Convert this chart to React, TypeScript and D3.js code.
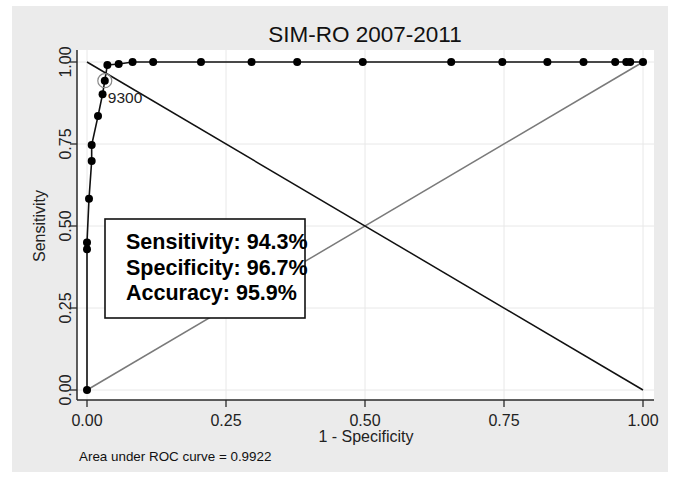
import React from "react";
import * as d3 from "d3";

const fpr = [0, 0, 0, 0.0036, 0.0084, 0.0084, 0.0198, 0.028, 0.032, 0.0366, 0.057, 0.082, 0.119, 0.205, 0.296, 0.378, 0.496, 0.655, 0.747, 0.828, 0.893, 0.95, 0.97, 0.977, 1];
const tpr = [0, 0.429, 0.45, 0.583, 0.698, 0.747, 0.835, 0.902, 0.943, 0.991, 0.994, 1, 1, 1, 1, 1, 1, 1, 1, 1, 1, 1, 1, 1, 1];
const tickValues = [0, 0.25, 0.5, 0.75, 1];
const tickLabels = ["0.00", "0.25", "0.50", "0.75", "1.00"];
const cutoffIndex = 8;
const cutoffLabel = "9300";
const statsLines = ["Sensitivity: 94.3%", "Specificity: 96.7%", "Accuracy: 95.9%"];
const titleText = "SIM-RO 2007-2011";
const xTitle = "1 - Specificity";
const yTitle = "Sensitivity";
const aucText = "Area under ROC curve = 0.9922";

const FONT = "'Liberation Sans', Arial, Helvetica, sans-serif";

export default function App() {
  const W = 674, H = 478;
  const plotL = 77, plotR = 654, plotT = 50, plotB = 400;
  const x = d3.scaleLinear().domain([0, 1]).range([87, 643]);
  const y = d3.scaleLinear().domain([0, 1]).range([390, 62]);
  const pts = fpr.map((f, i) => [f, tpr[i]] as [number, number]);
  const line = d3.line<[number, number]>().x(d => x(d[0])).y(d => y(d[1]));
  const axisColor = "#2a2a2a";
  const gridColor = "#e8e8e8";

  return (
    <div style={{ position: "absolute", left: 0, top: 0 }}>
      <svg width={W} height={H} style={{ display: "block", background: "#fff" }} fontFamily={FONT}>
        <rect x={12} y={6} width={656} height={466} fill="#ebebeb" />
        <rect x={plotL} y={plotT} width={plotR - plotL} height={plotB - plotT} fill="#fff" />
        {/* gridlines */}
        {tickValues.map(v => (
          <line key={"gx" + v} x1={x(v)} x2={x(v)} y1={plotT} y2={plotB} stroke={gridColor} strokeWidth={1} />
        ))}
        {tickValues.map(v => (
          <line key={"gy" + v} x1={plotL} x2={plotR} y1={y(v)} y2={y(v)} stroke={gridColor} strokeWidth={1} />
        ))}
        {/* reference diagonal */}
        <line x1={x(0)} y1={y(0)} x2={x(1)} y2={y(1)} stroke="#7a7a7a" strokeWidth={1.5} />
        {/* anti-diagonal */}
        <line x1={x(0)} y1={y(1)} x2={x(1)} y2={y(0)} stroke="#111" strokeWidth={1.5} />
        {/* ROC curve */}
        <path d={line(pts) || ""} fill="none" stroke="#111" strokeWidth={1.6} />
        {pts.map((p, i) => (
          <circle key={i} cx={x(p[0])} cy={y(p[1])} r={4} fill="#000" />
        ))}
        {/* cutoff marker */}
        <circle cx={x(fpr[cutoffIndex])} cy={y(tpr[cutoffIndex])} r={7} fill="none" stroke="#8a8a8a" strokeWidth={1.2} />
        <text x={x(fpr[cutoffIndex]) + 3} y={y(tpr[cutoffIndex]) + 22} fontSize={15.5} fill="#222">{cutoffLabel}</text>
        {/* axes */}
        <line x1={plotL} x2={plotL} y1={plotT} y2={plotB} stroke={axisColor} strokeWidth={1.5} />
        <line x1={plotL} x2={plotR} y1={plotB} y2={plotB} stroke={axisColor} strokeWidth={1.5} />
        {tickValues.map((v, i) => (
          <g key={"tx" + v}>
            <line x1={x(v)} x2={x(v)} y1={plotB} y2={plotB + 7} stroke={axisColor} strokeWidth={1.3} />
            <text x={x(v)} y={426} fontSize={16} textAnchor="middle" fill="#222">{tickLabels[i]}</text>
          </g>
        ))}
        {tickValues.map((v, i) => (
          <g key={"ty" + v}>
            <line x1={plotL - 7} x2={plotL} y1={y(v)} y2={y(v)} stroke={axisColor} strokeWidth={1.3} />
            <text transform={`translate(71,${y(v)}) rotate(-90)`} fontSize={16} textAnchor="middle" fill="#222">{tickLabels[i]}</text>
          </g>
        ))}
        {/* titles */}
        <text x={365} y={42} fontSize={22.5} textAnchor="middle" fill="#111">{titleText}</text>
        <text x={366} y={442} fontSize={16} textAnchor="middle" fill="#222">{xTitle}</text>
        <text transform={`translate(45,${(y(0) + y(1)) / 2}) rotate(-90)`} fontSize={16} textAnchor="middle" fill="#222">{yTitle}</text>
        <text x={79} y={461} fontSize={13.4} fill="#111">{aucText}</text>
        {/* stats box */}
        <rect x={105} y={219} width={200} height={99} fill="#fff" stroke="#111" strokeWidth={1.6} />
        {statsLines.map((s, i) => (
          <text key={s} x={126} y={249 + i * 25.7} fontSize={21.5} fontWeight="bold" fill="#000">{s}</text>
        ))}
      </svg>
    </div>
  );
}
